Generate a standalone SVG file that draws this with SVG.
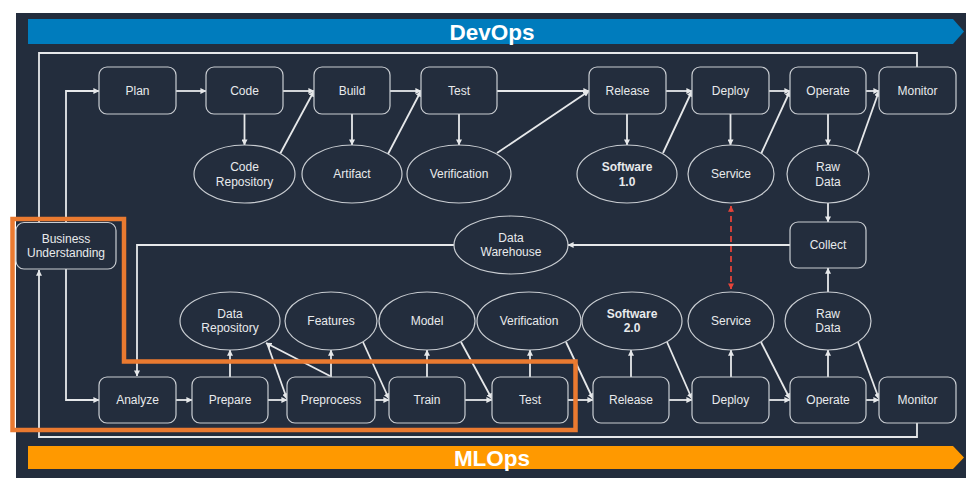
<svg xmlns="http://www.w3.org/2000/svg" width="979" height="492" viewBox="0 0 979 492">
<defs>
<marker id="a" viewBox="0 0 8 8" refX="7.5" refY="4" markerWidth="6" markerHeight="6" orient="auto" markerUnits="userSpaceOnUse"><path d="M0,0 L8,4 L0,8 z" fill="#e6e8ea"/></marker>
<marker id="r" viewBox="0 0 8 8" refX="7.5" refY="4" markerWidth="6" markerHeight="6" orient="auto-start-reverse" markerUnits="userSpaceOnUse"><path d="M0,0 L8,4 L0,8 z" fill="#e5443a"/></marker>
<style>
.box{fill:#232d3d;stroke:#c9cdd2;stroke-width:1.2}
.ell{fill:#232d3d;stroke:#c9cdd2;stroke-width:1.2}
.t{font-family:"Liberation Sans",Arial,sans-serif;font-size:12px;fill:#e8eaec;text-anchor:middle;dominant-baseline:central}
.b{font-weight:bold}
.c{fill:none;stroke:#e6e8ea;stroke-width:1.8}
.ca{fill:none;stroke:#e6e8ea;stroke-width:1.8;marker-end:url(#a)}
.ban{font-family:"Liberation Sans",Arial,sans-serif;font-size:22.5px;font-weight:bold;fill:#ffffff;text-anchor:middle;dominant-baseline:central}
</style>
</defs>
<rect x="0" y="0" width="979" height="492" fill="#ffffff"/>
<rect x="16" y="13" width="950" height="465" fill="#232d3d"/>
<g id="devops-banner">
<polygon points="28,19 953,19 964,31.5 953,44 28,44" fill="#007cbd"/>
<text class="ban" x="492" y="32">DevOps</text>
</g>
<g id="mlops-banner">
<polygon points="28,446 953,446 964,457.5 953,469 28,469" fill="#ff9900"/>
<text class="ban" x="492" y="458">MLOps</text>
</g>
<g id="connectors">
<path class="c" d="M917,67 V53 H39 V222"/>
<path class="ca" d="M917,423 V437 H39 V270"/>
<path class="ca" d="M66,222 V91 H99"/>
<path class="ca" d="M66,269 V400 H99"/>
<path class="ca" d="M176,91 H206"/>
<path class="ca" d="M283,91 H314"/>
<path class="ca" d="M390,91 H421"/>
<path class="ca" d="M497,91 H589"/>
<path class="ca" d="M666,91 H692"/>
<path class="ca" d="M769,91 H790"/>
<path class="ca" d="M866,91 H879"/>
<path class="ca" d="M244.5,114 V145"/>
<path class="ca" d="M352,114 V145"/>
<path class="ca" d="M459,114 V145"/>
<path class="ca" d="M627,114 V145"/>
<path class="ca" d="M730.5,114 V145"/>
<path class="ca" d="M828,114 V145"/>
<path class="ca" d="M280,154 L314,91"/>
<path class="ca" d="M388,154 L421,91"/>
<path class="ca" d="M497,153 L589,91"/>
<path class="ca" d="M663,153 L692,91"/>
<path class="ca" d="M761,154 L790,91"/>
<path class="ca" d="M857,153 L879,91"/>
<path class="ca" d="M828,203 V222"/>
<path class="ca" d="M828,292 V268"/>
<path class="ca" d="M790,245 H568"/>
<path class="ca" d="M454,245 H137 V376"/>
<path d="M731,206 V289" fill="none" stroke="#e5443a" stroke-width="1.8" stroke-dasharray="6,4" marker-start="url(#r)" marker-end="url(#r)"/>
<path class="ca" d="M176,400 H192"/>
<path class="ca" d="M268,400 H287"/>
<path class="ca" d="M375,400 H389"/>
<path class="ca" d="M465,400 H492"/>
<path class="ca" d="M568,400 H593"/>
<path class="ca" d="M669,400 H692"/>
<path class="ca" d="M769,400 H790"/>
<path class="ca" d="M866,400 H879"/>
<path class="ca" d="M230,377 V350"/>
<path class="ca" d="M331,377 V350"/>
<path class="ca" d="M427,377 V350"/>
<path class="ca" d="M530,377 V350"/>
<path class="ca" d="M631,377 V350"/>
<path class="ca" d="M731,377 V350"/>
<path class="ca" d="M828,377 V350"/>
<path class="ca" d="M330,376 L266,343"/>
<path class="ca" d="M267,343 L287,399"/>
<path class="ca" d="M363,342 L389,399"/>
<path class="ca" d="M461,342 L492,399"/>
<path class="ca" d="M566,342 L593,399"/>
<path class="ca" d="M667,342 L692,399"/>
<path class="ca" d="M761,342 L790,399"/>
<path class="ca" d="M858,342 L879,399"/>
</g>
<g id="bu"><rect class="box" x="16" y="222.5" width="100" height="46.5" rx="8"/><text class="t" x="66" y="239">Business</text><text class="t" x="66" y="253">Understanding</text></g>
<g id="plan"><rect class="box" x="99" y="67" width="77" height="47" rx="8"/><text class="t" x="137.5" y="91">Plan</text></g>
<g id="code"><rect class="box" x="206" y="67" width="77" height="47" rx="8"/><text class="t" x="244.5" y="91">Code</text></g>
<g id="build"><rect class="box" x="314" y="67" width="76" height="47" rx="8"/><text class="t" x="352" y="91">Build</text></g>
<g id="test1"><rect class="box" x="421" y="67" width="76" height="47" rx="8"/><text class="t" x="459" y="91">Test</text></g>
<g id="release1"><rect class="box" x="589" y="67" width="77" height="47" rx="8"/><text class="t" x="627.5" y="91">Release</text></g>
<g id="deploy1"><rect class="box" x="692" y="67" width="77" height="47" rx="8"/><text class="t" x="730.5" y="91">Deploy</text></g>
<g id="operate1"><rect class="box" x="790" y="67" width="76" height="47" rx="8"/><text class="t" x="828" y="91">Operate</text></g>
<g id="monitor1"><rect class="box" x="879" y="67" width="77" height="47" rx="8"/><text class="t" x="917.5" y="91">Monitor</text></g>
<g id="coderepo"><ellipse class="ell" cx="244.5" cy="174" rx="50.5" ry="29"/><text class="t" x="244.5" y="167">Code</text><text class="t" x="244.5" y="181.5">Repository</text></g>
<g id="artifact"><ellipse class="ell" cx="352" cy="174" rx="50" ry="29"/><text class="t" x="352" y="174">Artifact</text></g>
<g id="verif1"><ellipse class="ell" cx="459" cy="174" rx="52" ry="29"/><text class="t" x="459" y="174">Verification</text></g>
<g id="sw1"><ellipse class="ell" cx="627" cy="174" rx="50" ry="29"/><text class="t b" x="627" y="167">Software</text><text class="t b" x="627" y="181.5">1.0</text></g>
<g id="service1"><ellipse class="ell" cx="731" cy="174" rx="43" ry="29"/><text class="t" x="731" y="174">Service</text></g>
<g id="rawdata1"><ellipse class="ell" cx="828" cy="174" rx="41" ry="29"/><text class="t" x="828" y="167">Raw</text><text class="t" x="828" y="181.5">Data</text></g>
<g id="collect"><rect class="box" x="790" y="222" width="76" height="46" rx="8"/><text class="t" x="828" y="245">Collect</text></g>
<g id="dw"><ellipse class="ell" cx="511" cy="245" rx="57" ry="29"/><text class="t" x="511" y="238">Data</text><text class="t" x="511" y="252">Warehouse</text></g>
<g id="datarepo"><ellipse class="ell" cx="230" cy="321" rx="50" ry="29"/><text class="t" x="230" y="314">Data</text><text class="t" x="230" y="328">Repository</text></g>
<g id="features"><ellipse class="ell" cx="331" cy="321" rx="46" ry="29"/><text class="t" x="331" y="321">Features</text></g>
<g id="model"><ellipse class="ell" cx="427" cy="321" rx="48" ry="29"/><text class="t" x="427" y="321">Model</text></g>
<g id="verif2"><ellipse class="ell" cx="529" cy="321" rx="52" ry="29"/><text class="t" x="529" y="321">Verification</text></g>
<g id="sw2"><ellipse class="ell" cx="632" cy="321" rx="50" ry="29"/><text class="t b" x="632" y="314">Software</text><text class="t b" x="632" y="328">2.0</text></g>
<g id="service2"><ellipse class="ell" cx="731" cy="321" rx="43" ry="29"/><text class="t" x="731" y="321">Service</text></g>
<g id="rawdata2"><ellipse class="ell" cx="828" cy="321" rx="43" ry="29"/><text class="t" x="828" y="314">Raw</text><text class="t" x="828" y="328">Data</text></g>
<g id="analyze"><rect class="box" x="99" y="377" width="77" height="46" rx="8"/><text class="t" x="137.5" y="400">Analyze</text></g>
<g id="prepare"><rect class="box" x="192" y="377" width="76" height="46" rx="8"/><text class="t" x="230" y="400">Prepare</text></g>
<g id="preprocess"><rect class="box" x="287" y="377" width="88" height="46" rx="8"/><text class="t" x="331" y="400">Preprocess</text></g>
<g id="train"><rect class="box" x="389" y="377" width="76" height="46" rx="8"/><text class="t" x="427" y="400">Train</text></g>
<g id="test2"><rect class="box" x="492" y="377" width="76" height="46" rx="8"/><text class="t" x="530" y="400">Test</text></g>
<g id="release2"><rect class="box" x="593" y="377" width="76" height="46" rx="8"/><text class="t" x="631" y="400">Release</text></g>
<g id="deploy2"><rect class="box" x="692" y="377" width="77" height="46" rx="8"/><text class="t" x="730.5" y="400">Deploy</text></g>
<g id="operate2"><rect class="box" x="790" y="377" width="76" height="46" rx="8"/><text class="t" x="828" y="400">Operate</text></g>
<g id="monitor2"><rect class="box" x="879" y="377" width="77" height="46" rx="8"/><text class="t" x="917.5" y="400">Monitor</text></g>
<g id="highlight"><polygon points="12.5,219 124,219 124,361.5 575.5,361.5 575.5,430 12.5,430" fill="none" stroke="#ea7a30" stroke-width="4.5"/></g>
</svg>
